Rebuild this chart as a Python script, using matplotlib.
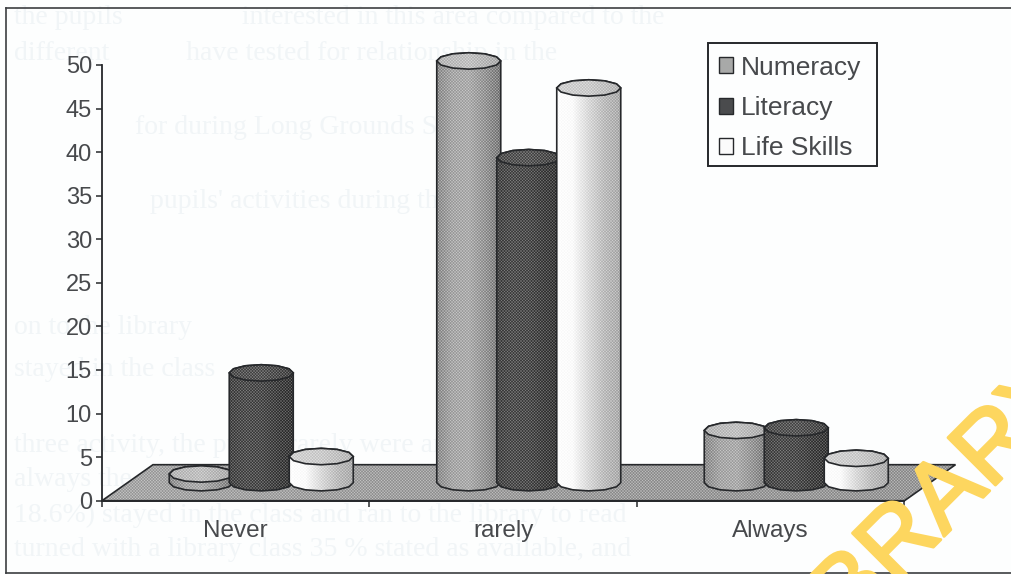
import numpy as np
import matplotlib
matplotlib.use("Agg")
import matplotlib.pyplot as plt
import matplotlib.patheffects as pe
from matplotlib.lines import Line2D
from matplotlib.patches import Patch, Polygon, Rectangle

plt.rcParams["font.family"] = ["Liberation Sans", "DejaVu Sans"]

categories = ["Never", "rarely", "Always"]
numeracy = [1, 48.4, 6]
literacy = [12.6, 37.3, 6.3]
life_skills = [3, 45.3, 2.8]
y_ticks = [0, 5, 10, 15, 20, 25, 30, 35, 40, 45, 50]

W, H = 1012, 574
INK = "#26282b"
TEXT = "#47494c"

# axes box in pixels, one category is 267.5 px wide, one y unit 8.71 px
left, right, bottom, top = 102, 904.5, 500.7, 65
PX = (right - left) / 3
PY = (bottom - top) / 50

# depth of the floor and size of the cylinders, in data units
depth_x, depth_y = 51 / PX, 36 / PY
offset = 60 / PX
rx, ry = 32 / PX, 8.2 / PY

fig = plt.figure(figsize=(W / 100, H / 100), dpi=100, facecolor="#fdfefe")
ax = fig.add_axes([left / W, 1 - bottom / H, (right - left) / W, (bottom - top) / H])
ax.set_xlim(0, 3)
ax.set_ylim(0, 50)
ax.set_autoscale_on(False)
ax.patch.set_alpha(0)


def textured(points, stops, z):
    # halftone fill: grey ramp across the shape with a dot screen locked to the pixel grid
    points = np.asarray(points)
    px0 = int(np.floor(left + points[:, 0].min() * PX))
    px1 = int(np.ceil(left + points[:, 0].max() * PX))
    py0 = int(np.floor(bottom - points[:, 1].max() * PY))
    py1 = int(np.ceil(bottom - points[:, 1].min() * PY))
    jj, ii = np.mgrid[py0:py1, px0:px1]
    ramp = np.interp(np.linspace(0, 1, px1 - px0), np.linspace(0, 1, len(stops)), stops)
    amount = 0.17 * np.clip(1.7 * (1 - ramp) + 0.1, 0, 1) * np.clip(ramp * 4, 0, 1)
    screen = np.cos(2 * np.pi * ii / 3) * np.cos(2 * np.pi * jj / 3) * amount
    extent = ((px0 - left) / PX, (px1 - left) / PX, (bottom - py1) / PY, (bottom - py0) / PY)
    img = ax.imshow(np.clip(ramp + screen, 0, 1), extent=extent, aspect="auto", cmap="gray",
                    vmin=0, vmax=1, interpolation="nearest", zorder=z)
    outline = Polygon(points, closed=True, facecolor="none", edgecolor=INK, linewidth=1.2,
                      zorder=z + 0.1, clip_on=False)
    ax.add_patch(outline)
    img.set_clip_box(fig.bbox)
    img.set_clip_path(outline)


def cylinder(x, value, body, cap, z):
    t = np.linspace(0, 2 * np.pi, 13)
    cx, cy = x + depth_x / 2, depth_y / 2
    ex, ey = rx * np.cos(t), ry * np.sin(t)
    front = t[6:]
    back = t[:7]
    shell = np.r_[
        np.c_[cx + rx * np.cos(front), cy + ry * np.sin(front)],
        np.c_[cx + rx * np.cos(back), cy + value + ry * np.sin(back)],
    ]
    textured(shell, body, z)
    textured(np.c_[cx + ex, cy + value + ey], cap, z + 0.2)


# floor
floor = [(0, 0), (3, 0), (3 + depth_x, depth_y), (depth_x, depth_y)]
textured(floor, [0.66, 0.62, 0.6], 1)

styles = [
    (numeracy, [0.56, 0.66, 0.68, 0.6, 0.5], [0.72, 0.76, 0.68]),
    (literacy, [0.3, 0.33, 0.32, 0.28, 0.25], [0.34, 0.36, 0.3]),
    (life_skills, [0.99, 0.98, 0.85, 0.74, 0.68], [0.82, 0.8, 0.72]),
]
z = 2
for i in range(len(categories)):
    for j, (series, body, cap) in enumerate(styles):
        cylinder(i + 0.5 + (j - 1) * offset, series[i], body, cap, z)
        z += 1

# axes
for name in ["top", "right", "bottom"]:
    ax.spines[name].set_visible(False)
ax.spines["left"].set_color(INK)
ax.spines["left"].set_linewidth(1.3)
ax.plot([0, 3], [0, 0], color=INK, lw=1.4, clip_on=False, zorder=1.5)
ax.set_yticks(y_ticks)
ax.set_xticks([0, 1, 2, 3])
ax.set_xticklabels([])
ax.tick_params(axis="both", direction="out", length=4.2, width=1.1, color=INK)
ax.tick_params(axis="y", labelsize=17, labelcolor=TEXT, pad=3)
for i, name in enumerate(categories):
    ax.text(i + 0.5, -2.2, name, ha="center", va="top", fontsize=17.5, color=TEXT)

# legend, with its box drawn separately since the right margin is wider than the left
fig.add_artist(Rectangle((708 / W, 1 - 166 / H), 169 / W, 123 / H, transform=fig.transFigure,
                         facecolor="#fdfefe", edgecolor=INK, linewidth=1.4, zorder=39))
handles = [
    Patch(facecolor="#a8a9a8", edgecolor=INK, label="Numeracy"),
    Patch(facecolor="#4a4b4d", edgecolor=INK, label="Literacy"),
    Patch(facecolor="#fbfbfb", edgecolor=INK, label="Life Skills"),
]
leg = fig.legend(handles=handles, loc="upper left", bbox_to_anchor=(708 / W, 1 - 45 / H),
                 bbox_transform=fig.transFigure, borderaxespad=0, fontsize=19, frameon=False,
                 handlelength=0.55, handleheight=0.55, handletextpad=0.3, labelspacing=0.62,
                 borderpad=0.4, labelcolor=TEXT)
leg.set_zorder(40)

# page border of the scan
for xs, ys in [((6, 6), (8, 573)), ((6, 1012), (8, 8)), ((6, 1012), (573, 573))]:
    fig.add_artist(Line2D([x / W for x in xs], [1 - y / H for y in ys], color="#3c3e41", lw=1.2))

# print showing through from the reverse side
ghost = [
    (14, 24, "the pupils                 interested in this area compared to the"),
    (14, 60, "different           have tested for relationship in the"),
    (135, 134, "for during Long Grounds Scores"),
    (150, 208, "pupils' activities during this period"),
    (14, 334, "on to the library"),
    (14, 376, "stayed in the class"),
    (14, 452, "three activity, the pupils rarely were and other"),
    (14, 486, "always the pupils were rated by the teachers and"),
    (14, 522, "18.6%) stayed in the class and ran to the library to read"),
    (14, 556, "turned with a library class 35 % stated as available, and"),
]
for x, y, line in ghost:
    fig.text(x / W, 1 - y / H, line, fontsize=20, color="#f1f5f7", family="Liberation Serif",
             zorder=-5)

fig.text(920 / W, 1 - 525 / H, "LIBRARY", fontsize=70, color="#fdd65f", rotation=45,
         rotation_mode="anchor", ha="center", va="center", zorder=60,
         path_effects=[pe.withStroke(linewidth=2.2, foreground="#fdd65f")])

fig.savefig("out.png", dpi=100, facecolor=fig.get_facecolor())
